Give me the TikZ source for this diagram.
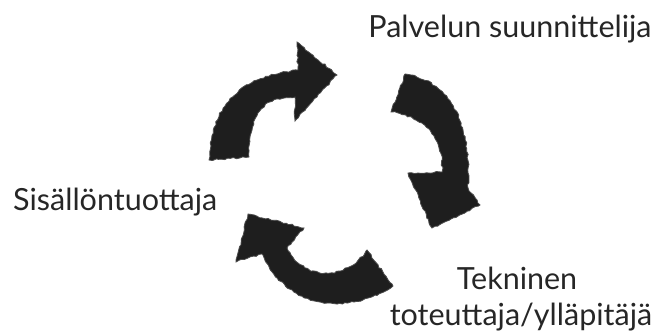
\documentclass[tikz,border=0pt]{standalone}
\usepackage{fontspec}
\setmainfont{Lato}
\usetikzlibrary{decorations.pathmorphing}
\definecolor{inkgray}{HTML}{262626}
\definecolor{crayon}{HTML}{1E1E1E}
\tikzset{
  cycle/.style={x=1pt, y=-1pt},
  crayonfill/.style={fill=crayon, draw=crayon!80, line width=0.8pt,
    decorate, decoration={random steps, segment length=3pt, amplitude=0.9pt}},
  rolelabel/.style={font=\fontsize{30.5}{36}\selectfont, text=inkgray,
    inner sep=0pt, align=center},
}
\begin{document}
\begin{tikzpicture}[cycle]
  \useasboundingbox (0,0) rectangle (664,333);
  % upper left arrow, pointing right
  \path[crayonfill] (209,160) .. controls (212,115) and (228,78) .. (298,70)
    -- (297,42) -- (337,75) -- (295,121) -- (295,97)
    .. controls (266,97) and (249,110) .. (249,157) -- cycle;
  % right arrow, pointing down
  \path[crayonfill] (405,74) -- (391,112)
    .. controls (428,118) and (444,140) .. (442,172)
    -- (408,173) -- (432,228) -- (480,205) -- (468,188)
    .. controls (472,115) and (445,80) .. (405,74) -- cycle;
  % lower arrow, pointing up left
  \path[crayonfill] (248,214) -- (304,228) -- (287,248)
    .. controls (303,280) and (345,282) .. (367,250)
    -- (393,286) .. controls (352,314) and (288,312) .. (262,254)
    -- (236,262) -- cycle;
  % the three roles
  \node[rolelabel, anchor=base] (planner) at (510,37) {Palvelun suunnittelija};
  \node[rolelabel, anchor=base west] (author) at (13,210) {Sisällöntuottaja};
  \node[rolelabel, anchor=base] (techie) at (517,289) {Tekninen};
  \node[rolelabel, anchor=base] (techie2) at (521,325) {toteuttaja/ylläpitäjä};
\end{tikzpicture}
\end{document}
